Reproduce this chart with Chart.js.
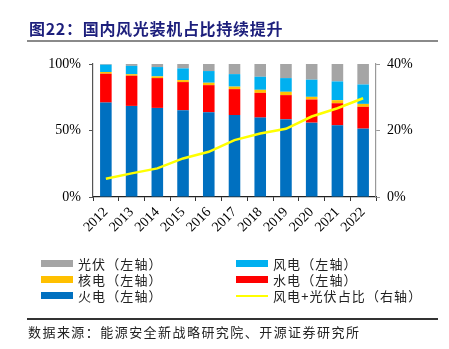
<!DOCTYPE html>
<html><head><meta charset="utf-8">
<script src="https://cdn.jsdelivr.net/npm/chart.js@4/dist/chart.umd.min.js"></script>
<style>
html,body{margin:0;padding:0;background:#fff;}
#wrap{position:relative;width:449px;height:349px;overflow:hidden;font-family:"Noto Sans CJK SC",sans-serif;}
#c{position:absolute;left:0;top:0;}
#title{position:absolute;left:29px;top:16px;font-size:16px;font-weight:bold;color:#1d1f7c;white-space:nowrap;letter-spacing:0.7px;}
#tline{position:absolute;left:27px;top:40px;width:411px;height:2px;background:#8a8a8a;}
#bline{position:absolute;left:27px;top:318px;width:411px;height:1.5px;background:#333;}
#src{position:absolute;left:28px;top:322px;font-size:13px;color:#222;white-space:nowrap;letter-spacing:1.45px;}
.lg{position:absolute;font-size:13px;color:#222;white-space:nowrap;letter-spacing:1.1px;line-height:16px;}
.sw{position:absolute;width:32px;height:7px;}
</style></head>
<body><div id="wrap">
<canvas id="c" width="449" height="349"></canvas>
<div id="title">图22：国内风光装机占比持续提升</div>
<div id="tline"></div>
<div id="legend"></div>
<div id="bline"></div>
<div id="src">数据来源：能源安全新战略研究院、开源证券研究所</div>
</div>
<script>
const years = ['2012','2013','2014','2015','2016','2017','2018','2019','2020','2021','2022'];
const thermal = [71.0, 68.5, 67.0, 65.2, 63.7, 61.6, 59.7, 58.4, 55.9, 53.9, 51.4];
const hydro   = [21.7, 22.7, 22.4, 21.2, 20.4, 19.5, 18.6, 18.2, 17.4, 16.6, 16.4];
const nuclear = [1.3, 1.1, 1.3, 1.5, 1.8, 1.9, 2.3, 2.5, 2.0, 2.3, 2.2];
const wind    = [5.5, 6.3, 7.0, 8.8, 8.8, 9.4, 9.8, 10.3, 12.9, 14.1, 14.6];
const solar   = [0.5, 1.4, 2.3, 3.3, 5.3, 7.6, 9.6, 10.6, 11.8, 13.1, 15.4];
const share   = [5.5, 7.1, 8.6, 11.6, 13.6, 17.1, 19.1, 20.5, 24.2, 26.7, 29.7];
const yLeftTicks = [0, 50, 100];
const yRightTicks = [0, 20, 40];

const names = {solar:'光伏（左轴）', wind:'风电（左轴）', nuclear:'核电（左轴）', hydro:'水电（左轴）', thermal:'火电（左轴）', share:'风电+光伏占比（右轴）'};
const colors = {solar:'#a5a5a5', wind:'#00b0f0', nuclear:'#ffc000', hydro:'#ff0000', thermal:'#0070c0', share:'#ffff00'};

// HTML legend
const legendItems = [
  ['solar',41,260],['wind',236,260],
  ['nuclear',41,276],['hydro',236,276],
  ['thermal',41,292],['share',236,292]
];
const lgEl = document.getElementById('legend');
legendItems.forEach(([k,x,y])=>{
  const sw = document.createElement('div');
  sw.className='sw';
  sw.style.left = x+'px';
  if(k==='share'){ sw.style.top=(y+2.5)+'px'; sw.style.height='2px'; }
  else { sw.style.top=y+'px'; }
  sw.style.background = colors[k];
  lgEl.appendChild(sw);
  const t = document.createElement('div');
  t.className='lg'; t.style.left=(x+37)+'px'; t.style.top=(y-4.5)+'px';
  t.textContent = names[k];
  lgEl.appendChild(t);
});

const tickFont = {family:"'Liberation Serif','Times New Roman',serif", size:14};
const barDs = (k, arr) => ({type:'bar', label:names[k], data:arr, backgroundColor:colors[k], yAxisID:'y', stack:'s', barPercentage:0.9, categoryPercentage:0.5, order:2});

new Chart(document.getElementById('c'), {
  type:'bar',
  data: {
    labels: years,
    datasets: [
      {type:'line', label:names.share, data:share, yAxisID:'y1', borderColor:colors.share, borderWidth:2.5, pointRadius:0, tension:0, order:0},
      barDs('thermal', thermal), barDs('hydro', hydro), barDs('nuclear', nuclear), barDs('wind', wind), barDs('solar', solar)
    ]
  },
  options: {
    responsive:false, animation:false,
    layout:{padding:{left:0,right:0,top:64,bottom:92}},
    plugins:{legend:{display:false}, tooltip:{enabled:false}},
    scales:{
      x:{stacked:true, offset:true,
        grid:{offset:true, drawOnChartArea:false, drawTicks:true, tickLength:4, color:'#333'},
        border:{color:'#222', width:1.2},
        ticks:{font:tickFont, color:'#000', maxRotation:45, minRotation:45, autoSkip:false, padding:3},
        afterFit(s){ s.height = 60; }
      },
      y:{stacked:true, min:0, max:100, position:'left',
        afterBuildTicks(s){ s.ticks = yLeftTicks.map(v=>({value:v})); },
        grid:{drawOnChartArea:false, drawTicks:true, tickLength:4, color:'#555'},
        border:{color:'#555', width:1.2},
        ticks:{font:tickFont, color:'#000', padding:8, callback:v=>v+'%'},
        afterFit(s){ s.width = 93; }
      },
      y1:{min:0, max:40, position:'right',
        afterBuildTicks(s){ s.ticks = yRightTicks.map(v=>({value:v})); },
        grid:{drawOnChartArea:false, drawTicks:true, tickLength:4, color:'#999'},
        border:{color:'#999', width:1.2},
        ticks:{font:tickFont, color:'#000', padding:7, callback:v=>v+'%'},
        afterFit(s){ s.width = 73; }
      }
    }
  }
});
</script>
</body></html>
